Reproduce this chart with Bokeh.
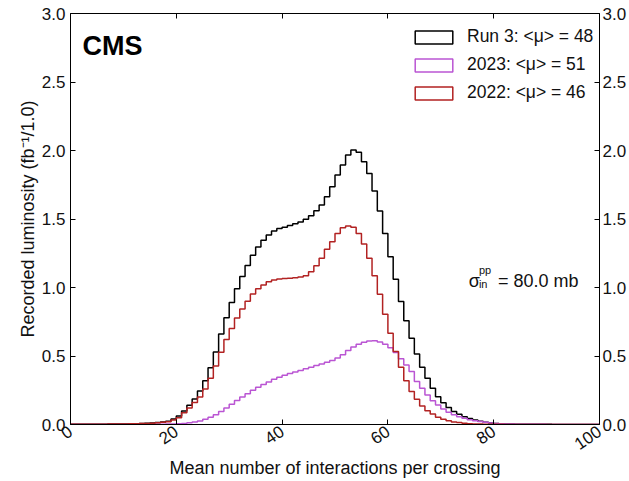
from bokeh.plotting import figure
from bokeh.models import (LinearAxis, FixedTicker, CustomJSTickFormatter, Label,
                          Legend, LegendItem, Range1d)
from bokeh.embed import file_html
from bokeh.resources import INLINE

# ---------------- data ----------------
bin_edges = list(range(0, 101))

run3 = [0.001, 0.001, 0.001, 0.001, 0.002, 0.002, 0.002, 0.003, 0.003, 0.004,
        0.004, 0.005, 0.006, 0.007, 0.009, 0.011, 0.014, 0.018, 0.024, 0.040,
        0.062, 0.099, 0.140, 0.186, 0.245, 0.320, 0.415, 0.530, 0.660, 0.780,
        0.890, 0.990, 1.080, 1.160, 1.235, 1.295, 1.345, 1.383, 1.412, 1.430,
        1.440, 1.452, 1.465, 1.478, 1.498, 1.524, 1.561, 1.602, 1.663, 1.736,
        1.821, 1.894, 1.967, 2.004, 1.987, 1.918, 1.833, 1.704, 1.558, 1.395,
        1.225, 1.060, 0.897, 0.758, 0.629, 0.515, 0.417, 0.337, 0.264, 0.203,
        0.159, 0.125, 0.094, 0.074, 0.057, 0.043, 0.033, 0.023, 0.016, 0.011,
        0.008, 0.006, 0.004, 0.003, 0.002, 0.002, 0.001, 0.001, 0.001, 0.001,
        0.001, 0.0005, 0.0005, 0.0005, 0.0, 0.0, 0.0, 0.0, 0.0, 0.0]

y2023 = [0.0, 0.0, 0.0, 0.0, 0.0, 0.0, 0.0, 0.0, 0.0, 0.0005,
         0.0005, 0.001, 0.001, 0.001, 0.001, 0.001, 0.002, 0.002, 0.003, 0.004,
         0.005, 0.008, 0.012, 0.018, 0.026, 0.038, 0.053, 0.072, 0.095, 0.120,
         0.148, 0.175, 0.200, 0.225, 0.250, 0.272, 0.292, 0.310, 0.330, 0.345,
         0.360, 0.372, 0.384, 0.395, 0.407, 0.418, 0.430, 0.442, 0.455, 0.468,
         0.485, 0.510, 0.540, 0.565, 0.585, 0.600, 0.610, 0.612, 0.603, 0.585,
         0.560, 0.525, 0.480, 0.435, 0.386, 0.313, 0.264, 0.215, 0.174, 0.142,
         0.113, 0.089, 0.072, 0.057, 0.045, 0.035, 0.028, 0.021, 0.016, 0.011,
         0.008, 0.006, 0.004, 0.003, 0.002, 0.002, 0.001, 0.001, 0.001, 0.001,
         0.0005, 0.0005, 0.0005, 0.0, 0.0, 0.0, 0.0, 0.0, 0.0, 0.0]

y2022 = [0.001, 0.001, 0.001, 0.001, 0.002, 0.002, 0.002, 0.003, 0.003, 0.004,
         0.004, 0.005, 0.006, 0.007, 0.008, 0.010, 0.013, 0.016, 0.020, 0.033,
         0.050, 0.085, 0.120, 0.160, 0.200, 0.260, 0.337, 0.427, 0.527, 0.620,
         0.700, 0.777, 0.843, 0.900, 0.953, 0.990, 1.018, 1.042, 1.055, 1.062,
         1.065, 1.068, 1.071, 1.076, 1.086, 1.115, 1.159, 1.213, 1.279, 1.334,
         1.395, 1.437, 1.449, 1.439, 1.395, 1.318, 1.213, 1.086, 0.950, 0.804,
         0.666, 0.532, 0.417, 0.320, 0.240, 0.184, 0.135, 0.101, 0.077, 0.053,
         0.038, 0.028, 0.019, 0.014, 0.009, 0.006, 0.004, 0.003, 0.002, 0.001,
         0.001, 0.001, 0.0005, 0.0005, 0.0, 0.0, 0.0, 0.0, 0.0, 0.0,
         0.0, 0.0, 0.0, 0.0, 0.0, 0.0, 0.0, 0.0, 0.0, 0.0]

series_values = [run3, y2023, y2022]
series_labels = ["Run 3: <μ> = 48", "2023: <μ> = 51", "2022: <μ> = 46"]
series_colors = ["#000000", "#ba55d3", "#b22222"]

x_ticks = [0, 20, 40, 60, 80, 100]
y_ticks = [0.0, 0.5, 1.0, 1.5, 2.0, 2.5, 3.0]
y_tick_labels = ["0.0", "0.5", "1.0", "1.5", "2.0", "2.5", "3.0"]

x_title = "Mean number of interactions per crossing"
y_title = "Recorded luminosity (fb⁻¹/1.0)"
experiment = "CMS"
xsec_symbol = "σ"
xsec_sup = "pp"
xsec_sub = "in"
xsec_value = "= 80.0 mb"

FONT = "Liberation Sans"
NAN = float("nan")

# ---------------- figure ----------------
p = figure(width=629, height=481, output_backend="svg", toolbar_location=None,
           x_range=Range1d(0, 100), y_range=Range1d(0, 3),
           min_border_left=70, min_border_right=10, min_border_top=13,
           min_border_bottom=56)
p.outline_line_color = None
p.xgrid.visible = False
p.ygrid.visible = False
p.background_fill_color = "white"
p.border_fill_color = "white"

blank = CustomJSTickFormatter(code="return ''")
label_map = {t: s for t, s in zip(y_ticks, y_tick_labels)}

for ax in (p.xaxis[0], p.yaxis[0]):
    ax.major_tick_in = 5
    ax.major_tick_out = 0
    ax.minor_tick_line_color = None
    ax.axis_line_color = "black"
    ax.major_tick_line_color = "black"
    ax.major_label_text_font = FONT
    ax.major_label_text_font_size = "17px"
    ax.major_label_text_color = "#111111"
    ax.axis_label_text_font = FONT
    ax.axis_label_text_font_size = "18px"
    ax.axis_label_text_font_style = "normal"
    ax.axis_label_text_color = "#111111"

p.xaxis[0].ticker = FixedTicker(ticks=x_ticks)
p.xaxis[0].major_label_orientation = 0.6
p.xaxis[0].major_label_standoff = 5
p.xaxis[0].axis_label = x_title
p.xaxis[0].axis_label_standoff = 0
p.yaxis[0].ticker = FixedTicker(ticks=y_ticks)
p.yaxis[0].major_label_overrides = label_map
p.yaxis[0].major_label_standoff = 5
p.yaxis[0].axis_label = y_title
p.yaxis[0].axis_label_standoff = 1

top_axis = LinearAxis(ticker=FixedTicker(ticks=x_ticks), formatter=blank,
                      major_tick_in=5, major_tick_out=0, major_label_standoff=0,
                      minor_tick_line_color=None)
right_axis = LinearAxis(ticker=FixedTicker(ticks=y_ticks),
                        major_label_overrides=label_map,
                        major_tick_in=5, major_tick_out=0, major_label_standoff=3,
                        minor_tick_line_color=None,
                        major_label_text_font=FONT,
                        major_label_text_font_size="17px",
                        major_label_text_color="#111111")
p.add_layout(top_axis, "above")
p.add_layout(right_axis, "right")

# histograms as step outlines
for vals, col in zip(series_values, series_colors):
    p.step(x=bin_edges, y=vals + [vals[-1]], mode="after",
           line_color=col, line_width=1.5)

# legend (open boxes); the box renderers hold no drawable point
items = []
for lab, col in zip(series_labels, series_colors):
    r = p.quad(left=[NAN], right=[NAN], top=[NAN], bottom=[NAN], fill_alpha=0,
               line_color=col, line_width=1.5)
    items.append(LegendItem(label=lab, renderers=[r], index=0))
legend = Legend(items=items, location=(340, 321),
                glyph_width=47, glyph_height=16, label_standoff=10,
                label_height=20, spacing=7, padding=0, margin=0,
                border_line_alpha=0, background_fill_alpha=0,
                label_text_font=FONT, label_text_font_size="17.5px",
                label_text_color="#111111")
p.add_layout(legend)

# CMS label
p.add_layout(Label(x=2.26, y=2.765, text=experiment, text_font=FONT,
                   text_font_style="bold", text_font_size="27px",
                   text_color="black", text_baseline="alphabetic"))

# cross-section annotation
p.add_layout(Label(x=75.3, y=1.047, text=xsec_symbol, text_font=FONT,
                   text_font_size="18px", text_color="#111111",
                   text_baseline="alphabetic"))
p.add_layout(Label(x=77.2, y=1.128, text=xsec_sup, text_font=FONT,
                   text_font_size="11px", text_color="#111111",
                   text_baseline="alphabetic"))
p.add_layout(Label(x=77.2, y=1.027, text=xsec_sub, text_font=FONT,
                   text_font_size="11px", text_color="#111111",
                   text_baseline="alphabetic"))
p.add_layout(Label(x=80.8, y=1.047, text=xsec_value, text_font=FONT,
                   text_font_size="18px", text_color="#111111",
                   text_baseline="alphabetic"))

open("out.html", "w").write(file_html(p, INLINE))
